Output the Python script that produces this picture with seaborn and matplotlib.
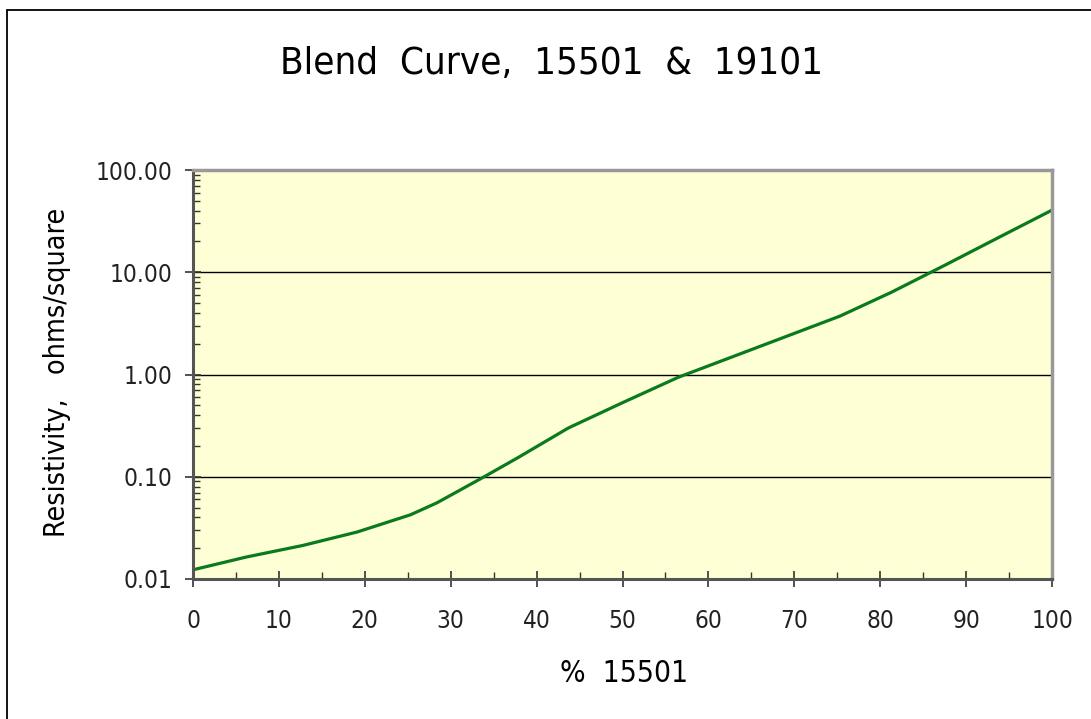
import matplotlib
matplotlib.use("Agg")
import matplotlib.pyplot as plt
import matplotlib.ticker as mticker
from matplotlib.patches import Rectangle
import seaborn as sns
import pandas as pd

# ---- data ----
pct_15501 = [0, 6.2, 12.8, 19.1, 25.3, 28.4, 33.9, 37.9, 43.7, 50.0,
             56.5, 62.8, 69.2, 75.3, 81.3, 87.6, 93.8, 100]
resistivity = [0.0123, 0.0164, 0.0213, 0.0288, 0.0424, 0.0556, 0.100, 0.155,
               0.300, 0.53, 0.94, 1.49, 2.38, 3.72, 6.37, 11.8, 21.9, 40.5]
y_ticks = [0.01, 0.1, 1, 10, 100]
x_ticks = list(range(0, 101, 10))

df = pd.DataFrame({"pct": pct_15501, "res": resistivity})

sns.set_style("white")
plt.rcParams['font.family'] = ['DejaVu Sans']
plt.rcParams['font.stretch'] = 'condensed'

fig = plt.figure(figsize=(10.91, 7.19), dpi=100)
ax = fig.add_axes([193 / 1091, 1 - 579 / 719, (1052 - 193) / 1091, (579 - 170) / 719])
ax.set_facecolor('#FFFFD6')

sns.lineplot(data=df, x="pct", y="res", ax=ax, color='#0A7A1E', linewidth=2.3)

ax.set_yscale('log')
ax.set_xlim(0, 100)
ax.set_ylim(0.01, 100)
ax.set_yticks(y_ticks)
ax.yaxis.set_major_formatter(mticker.FuncFormatter(lambda v, p: f"{v:.2f}"))
ax.yaxis.set_minor_locator(mticker.LogLocator(base=10, subs=range(2, 10)))
ax.yaxis.set_minor_formatter(mticker.NullFormatter())
ax.set_xticks(x_ticks)
ax.xaxis.set_minor_locator(mticker.MultipleLocator(5))

ax.grid(True, axis='y', which='major', color='black', linewidth=1.0)
ax.grid(False, axis='x')

ax.tick_params(axis='both', which='major', direction='inout', length=11, width=1.2,
               color='#333333', labelsize=17.5, labelcolor='#222222', pad=8)
ax.tick_params(axis='both', which='minor', direction='in', length=5, width=1.0,
               color='#333333')
ax.tick_params(axis='x', which='major', pad=16)
ax.tick_params(axis='y', which='major', pad=9)
ax.tick_params(left=True, bottom=True, which='both')

for side in ['left', 'bottom']:
    ax.spines[side].set_color('#555555')
    ax.spines[side].set_linewidth(2.2)
for side in ['top', 'right']:
    ax.spines[side].set_color('#999999')
    ax.spines[side].set_linewidth(2.5)

ax.set_xlabel('')
ax.set_ylabel('')
fig.text(624 / 1091, 1 - 674 / 719, '%  15501', ha='center', va='center',
         fontsize=21.5, color='black')
fig.text(57 / 1091, 1 - 372 / 719, 'Resistivity,   ohms/square', ha='center', va='center',
         rotation=90, fontsize=20.5, color='black')
fig.text(552 / 1091, 1 - 64 / 719, 'Blend  Curve,  15501  &  19101', ha='center', va='center',
         fontsize=27.5, color='black')

fig.patches.append(Rectangle((7 / 1091, -0.1), 1.2, 1 - 10 / 719 + 0.1,
                             transform=fig.transFigure, fill=False,
                             edgecolor='black', linewidth=1.3))

fig.savefig('out.png', dpi=100)
